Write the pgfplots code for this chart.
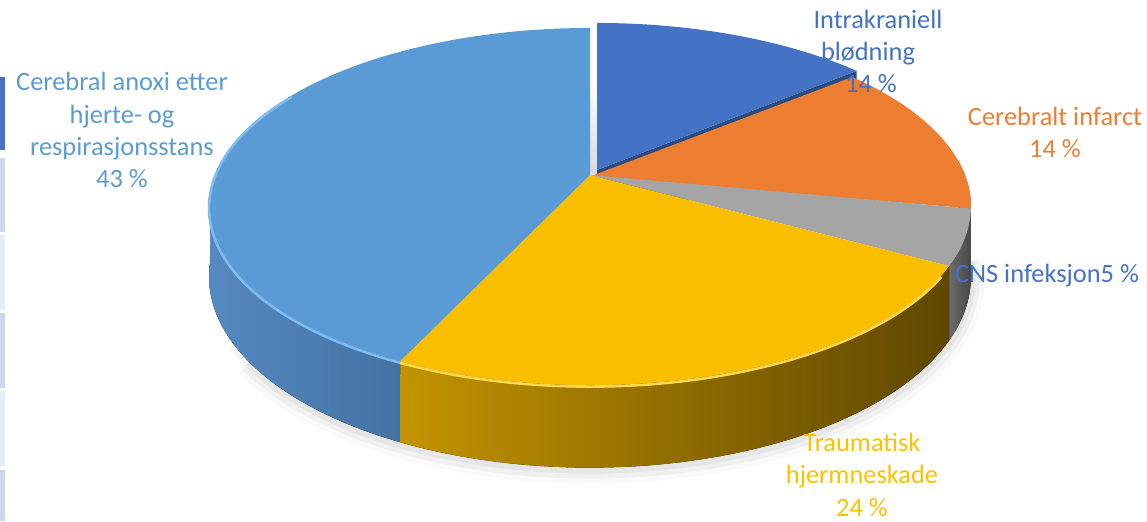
\documentclass[border=0pt]{standalone}
\usepackage{pgfplots}
\usepackage{pgfplotstable}
\pgfplotsset{compat=1.18}
\usepackage{fontspec}
\setmainfont{Carlito}
\definecolor{cIntra}{HTML}{4472C4}
\definecolor{cInf}{HTML}{ED7D31}
\definecolor{cCNS}{HTML}{A5A5A5}
\definecolor{cTrau}{HTML}{FFC000}
\definecolor{cTrauTop}{HTML}{F9BE00}
\definecolor{cAnox}{HTML}{5B9BD5}
\definecolor{bwL}{HTML}{5589C1}
\definecolor{bwR}{HTML}{4472A2}
\definecolor{ywL}{HTML}{C39300}
\definecolor{ywM}{HTML}{8E6C00}
\definecolor{ywR}{HTML}{5E4700}
\definecolor{gwL}{HTML}{6C6C6C}
\definecolor{gwR}{HTML}{474747}
\definecolor{owc}{HTML}{A9561F}
\definecolor{bcut}{HTML}{2B4A80}
\definecolor{rimB}{HTML}{7DBBF2}
\definecolor{rimY}{HTML}{FFD84D}
\definecolor{lavA}{HTML}{CFD5EA}
\definecolor{lavB}{HTML}{E9EBF5}
% projected rim of the pie (perspective ellipse), angle clockwise from 12 o'clock
\newcommand\TX[2]{(#2+590+375*sin(#1)/(1+0.1765*cos(#1)))}
\newcommand\TY[2]{(#2+175-173*cos(#1)/(1+0.1765*cos(#1)))}
\newcommand\BY[2]{(#2+175+(68-173*cos(#1))/(1+0.1765*cos(#1)))}
\pgfplotstableread{
label value
Intrakraniell 14
Infarct 14
CNS 5
Traumatisk 24
Anoxi 43
}\piedata
\begin{document}%
\begin{tikzpicture}
\pgfplotstablegetelem{0}{value}\of\piedata \let\vA\pgfplotsretval
\pgfplotstablegetelem{1}{value}\of\piedata \let\vB\pgfplotsretval
\pgfplotstablegetelem{2}{value}\of\piedata \let\vC\pgfplotsretval
\pgfplotstablegetelem{3}{value}\of\piedata \let\vD\pgfplotsretval
\pgfplotstablegetelem{4}{value}\of\piedata \let\vE\pgfplotsretval
\pgfmathsetmacro\aB{3.6*\vA}
\pgfmathsetmacro\aC{\aB+3.6*\vB}
\pgfmathsetmacro\aD{\aC+3.6*\vC}
\pgfmathsetmacro\aE{\aD+3.6*\vD}
\begin{axis}[hide axis, scale only axis, width=573.5pt, height=260.5pt,
  xmin=0, xmax=1147, ymin=0, ymax=521, y dir=reverse, clip=false,
  enlargelimits=false]
\coordinate (BL) at (0,521);
\coordinate (TR) at (1147,0);
% remnants of a table at the left edge
\fill[cIntra] (0,77) rectangle (5,150);
\fill[lavA] (0,158) rectangle (5,232);
\fill[lavB] (0,235) rectangle (5,310);
\fill[lavA] (0,313) rectangle (5,388);
\fill[lavB] (0,391) rectangle (5,466);
\fill[lavA] (0,470) rectangle (5,521);
% soft shadow
\draw[black, opacity=0.025, line width=14pt] plot[domain=235:95, samples=60, variable=\t] ({\TX{\t}{0}},{\BY{\t}{2}});
\draw[black, opacity=0.035, line width=9pt] plot[domain=235:95, samples=60, variable=\t] ({\TX{\t}{0}},{\BY{\t}{2}});
\draw[black, opacity=0.045, line width=5pt] plot[domain=240:95, samples=60, variable=\t] ({\TX{\t}{0}},{\BY{\t}{1}});
% walls
\fill[owc] plot[domain=85:\aC, samples=30, variable=\t] ({\TX{\t}{0}},{\TY{\t}{0}}) -- plot[domain=\aC:85, samples=30, variable=\t] ({\TX{\t}{0}},{\BY{\t}{0}}) -- cycle;
\fill[left color=gwL, right color=gwR] plot[domain=\aC:\aD, samples=20, variable=\t] ({\TX{\t}{0}},{\TY{\t}{0}}) -- plot[domain=\aD:\aC, samples=20, variable=\t] ({\TX{\t}{0}},{\BY{\t}{0}}) -- cycle;
\fill[left color=ywL, middle color=ywM, right color=ywR] plot[domain=\aD:\aE, samples=60, variable=\t] ({\TX{\t}{0}},{\TY{\t}{0}}) -- plot[domain=\aE:\aD, samples=60, variable=\t] ({\TX{\t}{0}},{\BY{\t}{0}}) -- cycle;
\fill[left color=bwL, right color=bwR] plot[domain=\aE:264, samples=40, variable=\t] ({\TX{\t}{0}},{\TY{\t}{0}}) -- plot[domain=264:\aE, samples=40, variable=\t] ({\TX{\t}{0}},{\BY{\t}{0}}) -- cycle;
% gap behind the exploded slice
\fill[top color=white, bottom color=gray!30] (590,85) rectangle (597,173);
% cut face of the exploded slice
\fill[bcut] (597,170) -- ({\TX{\aB}{7}},{\TY{\aB}{-5}}) -- ({\TX{\aB}{7}},{\BY{\aB}{-5}}) -- (597,238) -- cycle;
% top faces
\fill[cInf] (590,176.5) -- plot[domain=\aB+0.6:\aC, samples=40, variable=\t] ({\TX{\t}{0}},{\TY{\t}{0}}) -- cycle;
\fill[cCNS] (590,175) -- plot[domain=\aC:\aD, samples=20, variable=\t] ({\TX{\t}{0}},{\TY{\t}{0}}) -- cycle;
\fill[cTrauTop] (590,175) -- plot[domain=\aD:\aE, samples=60, variable=\t] ({\TX{\t}{0}},{\TY{\t}{0}}) -- cycle;
\fill[cAnox] (590,175) -- plot[domain=\aE:360, samples=90, variable=\t] ({\TX{\t}{0}},{\TY{\t}{0}}) -- cycle;
\fill[cIntra] (597,170) -- plot[domain=0:\aB, samples=40, variable=\t] ({\TX{\t}{7}},{\TY{\t}{-5}}) -- cycle;
% rim highlights
\draw[rimB, line width=1.3pt] plot[domain=\aE:300, samples=60, variable=\t] ({\TX{\t}{0}},{\TY{\t}{1.5}});
\draw[rimY, line width=1.3pt] plot[domain=\aD+3:\aE, samples=60, variable=\t] ({\TX{\t}{0}},{\TY{\t}{1.5}});
% labels
\begin{scope}[every node/.style={font=\fontsize{13.2}{16}\selectfont, anchor=base, inner sep=0pt}]
\node[text=cIntra] at (878,28) {Intrakraniell};
\node[text=cIntra] at (868,60) {blødning};
\node[text=cIntra] at (871,92) {14 \%};
\node[text=cInf] at (1055,125) {Cerebralt infarct};
\node[text=cInf] at (1055,157) {14 \%};
\node[text=cIntra] at (1047,282) {CNS infeksjon5 \%};
\node[text=cTrau] at (862,451) {Traumatisk};
\node[text=cTrau] at (862,483) {hjermneskade};
\node[text=cTrau] at (862,516) {24 \%};
\node[text=cAnox] at (122,90) {Cerebral anoxi etter};
\node[text=cAnox] at (122,123) {hjerte- og};
\node[text=cAnox] at (122,155) {respirasjonsstans};
\node[text=cAnox] at (122,187) {43 \%};
\end{scope}
\end{axis}
\pgfresetboundingbox
\path[use as bounding box] (BL) rectangle (TR);
\end{tikzpicture}%
\end{document}
